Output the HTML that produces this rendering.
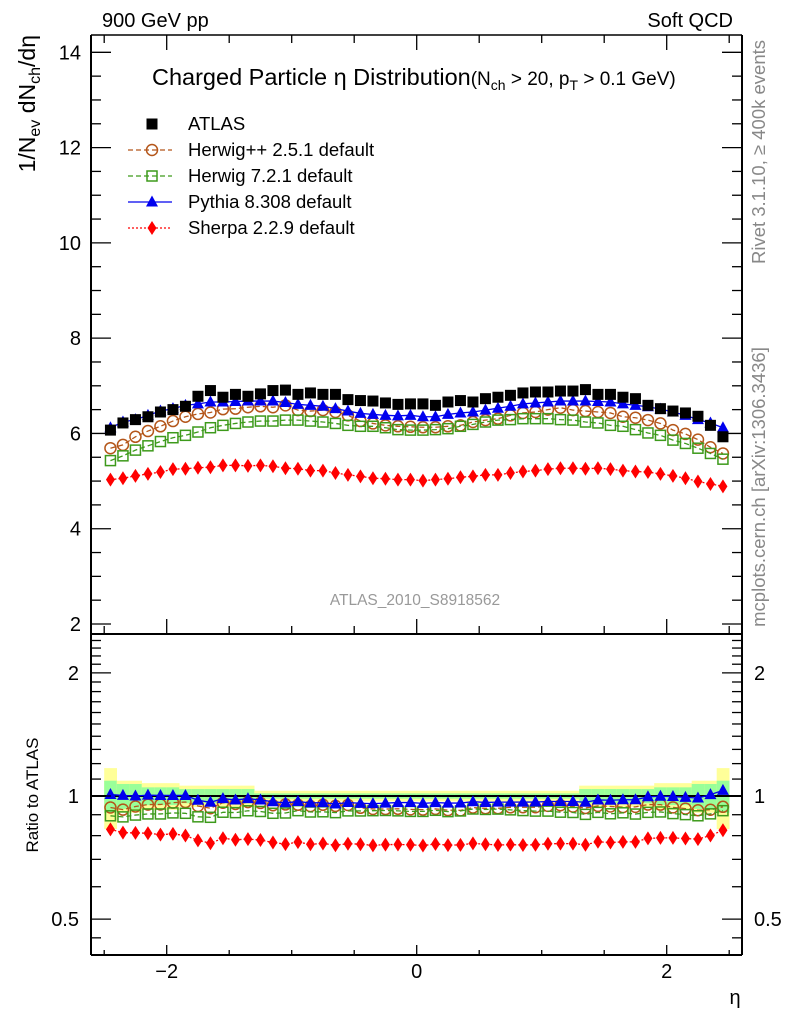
<!DOCTYPE html>
<html><head><meta charset="utf-8">
<style>
html,body{margin:0;padding:0;background:#fff;}
svg{display:block;font-family:"Liberation Sans",sans-serif;}
</style></head>
<body>
<svg id="chart" width="786" height="1024" viewBox="0 0 786 1024" xmlns="http://www.w3.org/2000/svg">
<defs>
<clipPath id="clipMain"><rect x="91" y="35" width="651" height="599"/></clipPath>
<clipPath id="clipRatio"><rect x="91" y="634" width="651" height="321"/></clipPath>
</defs>
<text x="102" y="27" font-size="20">900 GeV pp</text>
<text x="733" y="27" font-size="20" text-anchor="end">Soft QCD</text>
<text x="152" y="85" font-size="23.5">Charged Particle η Distribution<tspan font-size="19">(N</tspan><tspan font-size="14" dy="5">ch</tspan><tspan font-size="19" dy="-5"> &gt; 20, p</tspan><tspan font-size="14" dy="5">T</tspan><tspan font-size="19" dy="-5"> &gt; 0.1 GeV)</tspan></text>
<text transform="translate(35,35) rotate(-90)" font-size="23" text-anchor="end">1/N<tspan font-size="16" dy="5">ev</tspan><tspan dy="-5"> dN</tspan><tspan font-size="16" dy="5">ch</tspan><tspan dy="-5">/dη</tspan></text>
<text transform="translate(38,795) rotate(-90)" font-size="17" text-anchor="middle">Ratio to ATLAS</text>
<text x="735" y="1004" font-size="20" text-anchor="middle">η</text>
<text transform="translate(765,152) rotate(-90)" font-size="18.5" fill="#888" text-anchor="middle">Rivet 3.1.10, ≥ 400k events</text>
<text transform="translate(765,487) rotate(-90)" font-size="18.5" fill="#888" text-anchor="middle">mcplots.cern.ch [arXiv:1306.3436]</text>
<text x="415" y="605" font-size="15.5" fill="#999" text-anchor="middle">ATLAS_2010_S8918562</text>
<g id="bands" clip-path="url(#clipRatio)"></g>
<g id="mainMarks" clip-path="url(#clipMain)"></g>
<g id="ratioMarks" clip-path="url(#clipRatio)"></g>
<g id="axes"></g>
<g id="legend"></g>
</svg>
<script>
const etaCenters = [-2.45,-2.35,-2.25,-2.15,-2.05,-1.95,-1.85,-1.75,-1.65,-1.55,-1.45,-1.35,-1.25,-1.15,-1.05,-0.95,-0.85,-0.75,-0.65,-0.55,-0.45,-0.35,-0.25,-0.15,-0.05,0.05,0.15,0.25,0.35,0.45,0.55,0.65,0.75,0.85,0.95,1.05,1.15,1.25,1.35,1.45,1.55,1.65,1.75,1.85,1.95,2.05,2.15,2.25,2.35,2.45];
const atlasVals = [6.07,6.22,6.29,6.35,6.45,6.5,6.57,6.78,6.9,6.76,6.82,6.78,6.83,6.9,6.91,6.82,6.85,6.82,6.82,6.71,6.69,6.68,6.64,6.61,6.62,6.62,6.59,6.66,6.69,6.66,6.73,6.76,6.80,6.85,6.87,6.87,6.89,6.89,6.92,6.82,6.82,6.76,6.73,6.59,6.52,6.47,6.43,6.36,6.17,5.93];
const herwigPPVals = [5.69,5.76,5.93,6.05,6.15,6.26,6.35,6.41,6.44,6.51,6.52,6.55,6.57,6.55,6.59,6.49,6.47,6.49,6.45,6.38,6.26,6.21,6.17,6.15,6.14,6.13,6.13,6.15,6.17,6.24,6.28,6.31,6.38,6.43,6.45,6.50,6.54,6.49,6.47,6.45,6.43,6.35,6.33,6.28,6.21,6.07,5.99,5.87,5.71,5.58];
const herwig7Vals = [5.43,5.53,5.65,5.74,5.83,5.91,5.96,6.03,6.12,6.17,6.21,6.24,6.26,6.26,6.28,6.28,6.26,6.24,6.21,6.17,6.15,6.15,6.12,6.08,6.07,6.07,6.08,6.10,6.15,6.19,6.24,6.28,6.29,6.31,6.31,6.31,6.29,6.28,6.24,6.22,6.17,6.15,6.08,6.01,5.96,5.86,5.79,5.69,5.58,5.46];
const pythiaVals = [6.12,6.24,6.29,6.38,6.47,6.52,6.59,6.62,6.66,6.66,6.67,6.68,6.68,6.68,6.65,6.61,6.59,6.57,6.52,6.47,6.42,6.40,6.38,6.37,6.38,6.35,6.35,6.40,6.43,6.45,6.49,6.53,6.57,6.62,6.64,6.66,6.68,6.68,6.68,6.67,6.66,6.62,6.59,6.56,6.51,6.45,6.38,6.29,6.22,6.12];
const sherpaVals = [5.03,5.06,5.11,5.15,5.19,5.25,5.26,5.28,5.29,5.33,5.33,5.32,5.33,5.31,5.27,5.26,5.22,5.22,5.17,5.13,5.10,5.06,5.05,5.03,5.03,5.01,5.03,5.05,5.08,5.10,5.13,5.13,5.17,5.20,5.22,5.25,5.27,5.27,5.26,5.27,5.25,5.22,5.20,5.19,5.15,5.11,5.06,4.99,4.94,4.89];
const atlasErrTot = [0.17,0.09,0.09,0.075,0.075,0.075,0.06,0.06,0.06,0.06,0.06,0.06,0.03,0.03,0.03,0.03,0.03,0.03,0.03,0.03,0.03,0.03,0.03,0.03,0.03,0.03,0.03,0.03,0.03,0.03,0.03,0.03,0.03,0.03,0.03,0.03,0.03,0.03,0.06,0.06,0.06,0.06,0.06,0.06,0.075,0.075,0.075,0.09,0.09,0.17];
const atlasErrStat = [0.09,0.07,0.07,0.05,0.05,0.05,0.04,0.04,0.04,0.04,0.04,0.04,0.015,0.015,0.015,0.015,0.015,0.015,0.015,0.015,0.015,0.015,0.015,0.015,0.015,0.015,0.015,0.015,0.015,0.015,0.015,0.015,0.015,0.015,0.015,0.015,0.015,0.015,0.04,0.04,0.04,0.04,0.04,0.04,0.05,0.05,0.05,0.07,0.07,0.09];
const binWidth = 0.1;
const mainYTicks = [2,4,6,8,10,12,14];
const ratioYTicks = [0.5,1,2];
const xTicks = [-2,0,2];

const NS = "http://www.w3.org/2000/svg";
const L = 91, R = 742, MT = 35, MB = 634, RB = 955;
const xS = v => 416.7 + v * 125;
const yM = v => 624 - (v - 2) * 47.64;
const yR = v => 796 - Math.log10(v) * 409;
function mk(tag, attrs, parent) {
  const e = document.createElementNS(NS, tag);
  for (const k in attrs) e.setAttribute(k, attrs[k]);
  parent.appendChild(e);
  return e;
}
const gBands = document.getElementById('bands');
const gMain = document.getElementById('mainMarks');
const gRatio = document.getElementById('ratioMarks');
const gAxes = document.getElementById('axes');
const gLeg = document.getElementById('legend');

etaCenters.forEach((c, i) => {
  const x0 = xS(c - binWidth / 2), x1 = xS(c + binWidth / 2);
  const t = atlasErrTot[i], s = atlasErrStat[i];
  const r1 = mk('rect', {x: x0, y: yR(1 + t), width: x1 - x0 + 0.3, height: yR(1 - t) - yR(1 + t), fill: '#ffff99'}, gBands);
  
  
  const r2 = mk('rect', {x: x0, y: yR(1 + s), width: x1 - x0 + 0.3, height: yR(1 - s) - yR(1 + s), fill: '#99ff99'}, gBands);
  
  
});
const ref = mk('line', {x1: L, x2: R, y1: yR(1), y2: yR(1), stroke: '#000', 'stroke-width': 2}, gRatio);



function marker(g, type, color, x, y) {
  let e;
  if (type === 'square') e = mk('rect', {x: x - 5.5, y: y - 5.5, width: 11, height: 11, fill: color}, g);
  else if (type === 'osquare') e = mk('rect', {x: x - 5, y: y - 5, width: 10, height: 10, fill: 'none', stroke: color, 'stroke-width': 1.5}, g);
  else if (type === 'circle') e = mk('circle', {cx: x, cy: y, r: 5.5, fill: 'none', stroke: color, 'stroke-width': 1.5}, g);
  else if (type === 'tri') e = mk('polygon', {points: `${x},${y - 6.5} ${x - 6},${y + 4.5} ${x + 6},${y + 4.5}`, fill: color}, g);
  else e = mk('polygon', {points: `${x},${y - 7} ${x - 4.5},${y} ${x},${y + 7} ${x + 4.5},${y}`, fill: color}, g);
  return e;
}
const series = [
  {name: 'herwigpp', vals: herwigPPVals, color: '#b4561a', type: 'circle', dash: '5,3', label: 'Herwig++ 2.5.1 default'},
  {name: 'herwig7', vals: herwig7Vals, color: '#3d9a1b', type: 'osquare', dash: '5,3', label: 'Herwig 7.2.1 default'},
  {name: 'pythia', vals: pythiaVals, color: '#0000ee', type: 'tri', dash: '', label: 'Pythia 8.308 default'},
  {name: 'sherpa', vals: sherpaVals, color: '#ff0000', type: 'diamond', dash: '2,2', label: 'Sherpa 2.2.9 default'}
];
series.forEach(s => {
  const ptsM = etaCenters.map((c, i) => `${xS(c)},${yM(s.vals[i])}`).join(' ');
  const ptsR = etaCenters.map((c, i) => `${xS(c)},${yR(s.vals[i] / atlasVals[i])}`).join(' ');
  const lm = mk('polyline', {points: ptsM, fill: 'none', stroke: s.color, 'stroke-width': 1.3, 'stroke-dasharray': s.dash}, gMain);
  
  
  const lr = mk('polyline', {points: ptsR, fill: 'none', stroke: s.color, 'stroke-width': 1.3, 'stroke-dasharray': s.dash}, gRatio);
  
  
  etaCenters.forEach((c, i) => {
    const m = marker(gMain, s.type, s.color, xS(c), yM(s.vals[i]));
    
    
    const r = marker(gRatio, s.type, s.color, xS(c), yR(s.vals[i] / atlasVals[i]));
    
    
  });
});
etaCenters.forEach((c, i) => {
  const m = marker(gMain, 'square', '#000', xS(c), yM(atlasVals[i]));
  
  
});

function ln(x1, y1, x2, y2, w, name) {
  const e = mk('line', {x1, y1, x2, y2, stroke: '#000', 'stroke-width': w}, gAxes);
  
  
}
function tx(x, y, s, anchor, size, name) {
  const e = mk('text', {x, y, 'font-size': size, 'text-anchor': anchor}, gAxes);
  e.textContent = s;
  
  
}
ln(L, MT, R, MT, 1.5, 'main-frame-top');
ln(L, MT, L, RB, 2, 'left-axis');
ln(R, MT, R, RB, 2, 'right-axis');
ln(L, MB, R, MB, 2, 'panel-divider');
ln(L, RB, R, RB, 2, 'x-axis');
for (let v = 2; v <= 14.3; v += 0.5) {
  const maj = Math.abs(v - Math.round(v / 2) * 2) < 1e-6;
  const len = maj ? 20 : 10;
  ln(L, yM(v), L + len, yM(v), 1.3, 'main-y-tick');
  ln(R, yM(v), R - len, yM(v), 1.3, 'main-y-tick-right');
}
mainYTicks.forEach(v => tx(L - 10, yM(v) + 7, String(v), 'end', 20, 'main-y-tick-label'));
const rMinor = [0.45,0.5,0.6,0.7,0.8,0.9,1,1.1,1.2,1.3,1.4,1.5,1.6,1.7,1.8,1.9,2,2.1,2.2,2.3,2.4];
rMinor.forEach(v => {
  const maj = ratioYTicks.includes(v);
  const len = maj ? 20 : 10;
  ln(L, yR(v), L + len, yR(v), 1.3, 'ratio-y-tick');
  ln(R, yR(v), R - len, yR(v), 1.3, 'ratio-y-tick-right');
});
ratioYTicks.forEach(v => {
  tx(L - 12, yR(v) + 7, String(v), 'end', 20, 'ratio-y-tick-label');
  tx(R + 12, yR(v) + 7, String(v), 'start', 20, 'ratio-y-tick-label-right');
});
for (let v = -2.5; v <= 2.51; v += 0.5) {
  const maj = Math.abs(v - Math.round(v)) < 1e-6 && Math.round(v) % 2 === 0;
  const len = maj ? 10 : 5;
  ln(xS(v), RB, xS(v), RB - len, 1.3, 'x-tick');
  ln(xS(v), MB, xS(v), MB - (maj ? 15 : 8), 1.3, 'x-tick-mid');
  ln(xS(v), MT, xS(v), MT + (maj ? 15 : 8), 1.3, 'x-tick-top');
}
xTicks.forEach(v => tx(xS(v), 978, v < 0 ? '\u2212' + Math.abs(v) : String(v), 'middle', 20, 'x-tick-label'));

const legItems = [{name: 'atlas', color: '#000', type: 'square', dash: null, label: 'ATLAS'}].concat(series);
legItems.forEach((s, i) => {
  const y = 124 + i * 26;
  if (s.dash !== null) {
    const l = mk('line', {x1: 128, x2: 172, y1: y, y2: y, stroke: s.color, 'stroke-width': 1.3, 'stroke-dasharray': s.dash}, gLeg);
    
    
  }
  const m = marker(gLeg, s.type, s.color, 152, y);
  
  
  const t = mk('text', {x: 188, y: y + 6, 'font-size': 18.5}, gLeg);
  t.textContent = s.label;
  
  
});
</script>
</body></html>
